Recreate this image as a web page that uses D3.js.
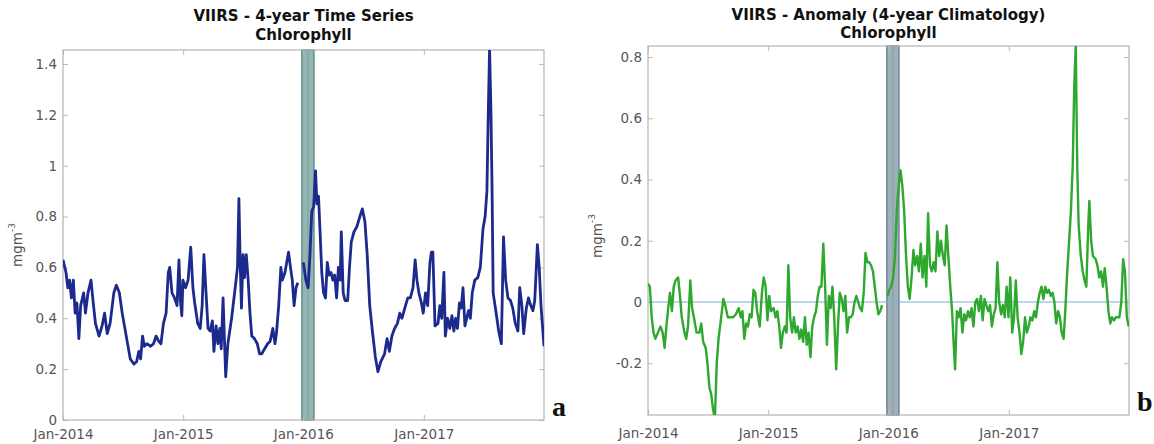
<!DOCTYPE html>
<html>
<head>
<meta charset="utf-8">
<script src="https://cdn.jsdelivr.net/npm/d3@7"></script>
<style>
  html, body { margin: 0; padding: 0; background: #fff; }
  svg { display: block; }
  .tick text { font-family: "DejaVu Sans", sans-serif; font-size: 13.5px; fill: #555; }
  .title { font-family: "DejaVu Sans", sans-serif; font-weight: bold; font-size: 15px; fill: #111; }
  .ylab { font-family: "DejaVu Sans", sans-serif; font-size: 13.5px; fill: #555; }
  .panel-letter { font-family: "Liberation Serif", "Times New Roman", serif; font-weight: bold; font-size: 28px; fill: #111; }
</style>
</head>
<body>
<svg id="chart" width="1154" height="444"></svg>
<script>
// ---- Chlorophyll time series (mg m^-3), time in decimal years; null marks a data gap
const chlTime = [
  2014.000, 2014.025, 2014.040, 2014.055, 2014.070, 2014.086, 2014.101, 2014.116, 2014.132, 2014.147,
  2014.172, 2014.187, 2014.208, 2014.233, 2014.254, 2014.270, 2014.300, 2014.325, 2014.346, 2014.368,
  2014.392, 2014.423, 2014.444, 2014.469, 2014.493, 2014.530, 2014.560, 2014.591, 2014.613, 2014.631,
  2014.646, 2014.662, 2014.677, 2014.698, 2014.729, 2014.753, 2014.775, 2014.796, 2014.815, 2014.836,
  2014.858, 2014.876, 2014.888, 2014.907, 2014.928, 2014.949, 2014.965, 2014.977, 2014.989, 2014.998,
  2015.020, 2015.041, 2015.063, 2015.081, 2015.096, 2015.121, 2015.142, 2015.158, 2015.173, 2015.188,
  2015.207, 2015.225, 2015.243, 2015.256, 2015.274, 2015.289, 2015.305, 2015.317, 2015.332, 2015.354,
  2015.372, 2015.403, 2015.433, 2015.452, 2015.464, 2015.473, 2015.485, 2015.498, 2015.510, 2015.525,
  2015.541, 2015.556, 2015.571, 2015.593, 2015.617, 2015.636, 2015.654, 2015.678, 2015.703, 2015.724,
  2015.746, 2015.764, 2015.776, 2015.795, 2015.813, 2015.825, 2015.847, 2015.862, 2015.877, 2015.893,
  2015.908, 2015.923, 2015.939, 2015.954, 2015.977,
  2016.000, 2016.021, 2016.040, 2016.055, 2016.070, 2016.086, 2016.101, 2016.113, 2016.126, 2016.138,
  2016.153, 2016.168, 2016.184, 2016.199, 2016.214, 2016.230, 2016.245, 2016.260, 2016.276, 2016.291,
  2016.306, 2016.315, 2016.331, 2016.346, 2016.368, 2016.383, 2016.398, 2016.420, 2016.444, 2016.469,
  2016.490, 2016.511, 2016.530, 2016.551, 2016.573, 2016.597, 2016.619, 2016.643, 2016.674, 2016.695,
  2016.714, 2016.735, 2016.757, 2016.781, 2016.800, 2016.818, 2016.842, 2016.867, 2016.888, 2016.910,
  2016.928, 2016.943, 2016.959, 2016.980, 2016.995,
  2017.014, 2017.032, 2017.051, 2017.063, 2017.075, 2017.093, 2017.118, 2017.133, 2017.149, 2017.167,
  2017.179, 2017.198, 2017.216, 2017.234, 2017.250, 2017.265, 2017.280, 2017.296, 2017.311, 2017.326,
  2017.342, 2017.357, 2017.372, 2017.387, 2017.403, 2017.424, 2017.449, 2017.470, 2017.492, 2017.510,
  2017.525, 2017.534, 2017.547, 2017.559, 2017.568, 2017.577, 2017.602, 2017.623, 2017.645, 2017.663,
  2017.681, 2017.700, 2017.721, 2017.740, 2017.761, 2017.783, 2017.798, 2017.816, 2017.831, 2017.853,
  2017.871, 2017.890, 2017.908, 2017.923, 2017.945, 2017.960, 2017.975, 2018.000
];
const chlValue = [
  0.63, 0.58, 0.52, 0.55, 0.48, 0.55, 0.42, 0.46, 0.32, 0.45,
  0.50, 0.42, 0.50, 0.55, 0.45, 0.38, 0.33, 0.37, 0.42, 0.34,
  0.38, 0.50, 0.53, 0.50, 0.42, 0.32, 0.24, 0.22, 0.23, 0.27,
  0.24, 0.33, 0.29, 0.30, 0.29, 0.30, 0.33, 0.31, 0.30, 0.38,
  0.42, 0.58, 0.60, 0.50, 0.48, 0.45, 0.63, 0.47, 0.41, 0.55,
  0.52, 0.55, 0.68, 0.52, 0.46, 0.38, 0.36, 0.45, 0.65, 0.52,
  0.36, 0.35, 0.39, 0.27, 0.37, 0.30, 0.36, 0.28, 0.48, 0.17,
  0.30, 0.40, 0.52, 0.60, 0.87, 0.65, 0.44, 0.65, 0.56, 0.65,
  0.55, 0.42, 0.33, 0.32, 0.30, 0.26, 0.26, 0.28, 0.30, 0.31,
  0.36, 0.30, 0.34, 0.45, 0.60, 0.55, 0.58, 0.62, 0.66, 0.60,
  0.55, 0.45, 0.52, 0.54, null,
  0.62, 0.55, 0.52, 0.65, 0.82, 0.84, 0.98, 0.85, 0.88, 0.75,
  0.58, 0.50, 0.48, 0.62, 0.57, 0.58, 0.55, 0.57, 0.48, 0.60,
  0.55, 0.74, 0.50, 0.47, 0.47, 0.60, 0.70, 0.74, 0.76, 0.80,
  0.83, 0.78, 0.65, 0.45, 0.35, 0.25, 0.19, 0.23, 0.26, 0.32,
  0.27, 0.33, 0.36, 0.38, 0.42, 0.40, 0.44, 0.48, 0.48, 0.52,
  0.63, 0.55, 0.50, 0.46, 0.42,
  0.50, 0.45, 0.62, 0.66, 0.66, 0.37, 0.38, 0.45, 0.40, 0.58,
  0.33, 0.40, 0.36, 0.41, 0.35, 0.40, 0.36, 0.46, 0.44, 0.52,
  0.37, 0.40, 0.43, 0.40, 0.50, 0.55, 0.56, 0.60, 0.75, 0.80,
  0.90, 1.15, 1.46, 1.20, 0.90, 0.50, 0.42, 0.35, 0.30, 0.72,
  0.55, 0.48, 0.47, 0.44, 0.38, 0.35, 0.52, 0.45, 0.34, 0.44,
  0.48, 0.45, 0.43, 0.47, 0.69, 0.60, 0.45, 0.29
];

// ---- Chlorophyll anomaly relative to the 4-year climatology (mg m^-3)
const anomTime = [
  2014.000, 2014.015, 2014.031, 2014.046, 2014.061, 2014.083, 2014.104, 2014.122, 2014.138, 2014.153,
  2014.168, 2014.183, 2014.199, 2014.214, 2014.229, 2014.251, 2014.266, 2014.281, 2014.303, 2014.318,
  2014.333, 2014.352, 2014.367, 2014.382, 2014.404, 2014.428, 2014.443, 2014.459, 2014.480, 2014.495,
  2014.511, 2014.526, 2014.541, 2014.557, 2014.572, 2014.587, 2014.609, 2014.627, 2014.642, 2014.664,
  2014.688, 2014.709, 2014.731, 2014.755, 2014.771, 2014.786, 2014.801, 2014.817, 2014.832, 2014.847,
  2014.862, 2014.878, 2014.893, 2014.908, 2014.930, 2014.948, 2014.963, 2014.979, 2014.994,
  2015.009, 2015.024, 2015.046, 2015.061, 2015.076, 2015.092, 2015.107, 2015.122, 2015.138, 2015.153,
  2015.168, 2015.183, 2015.199, 2015.214, 2015.229, 2015.245, 2015.260, 2015.275, 2015.291, 2015.306,
  2015.321, 2015.336, 2015.352, 2015.367, 2015.382, 2015.398, 2015.413, 2015.428, 2015.443, 2015.459,
  2015.474, 2015.489, 2015.505, 2015.520, 2015.535, 2015.550, 2015.566, 2015.581, 2015.596, 2015.612,
  2015.627, 2015.642, 2015.657, 2015.673, 2015.688, 2015.703, 2015.719, 2015.734, 2015.749, 2015.765,
  2015.780, 2015.795, 2015.810, 2015.826, 2015.841, 2015.856, 2015.872, 2015.887, 2015.902, 2015.917,
  2015.933, 2015.948, 2015.970,
  2015.994, 2016.009, 2016.024, 2016.040, 2016.055, 2016.070, 2016.086, 2016.101, 2016.116, 2016.131,
  2016.147, 2016.162, 2016.177, 2016.193, 2016.208, 2016.223, 2016.239, 2016.254, 2016.269, 2016.284,
  2016.300, 2016.315, 2016.330, 2016.346, 2016.361, 2016.376, 2016.391, 2016.407, 2016.422, 2016.437,
  2016.453, 2016.468, 2016.483, 2016.498, 2016.514, 2016.529, 2016.544, 2016.554, 2016.569, 2016.584,
  2016.599, 2016.615, 2016.630, 2016.645, 2016.661, 2016.676, 2016.691, 2016.706, 2016.722, 2016.737,
  2016.752, 2016.768, 2016.783, 2016.798, 2016.813, 2016.829, 2016.844, 2016.859, 2016.875, 2016.890,
  2016.905, 2016.920, 2016.936, 2016.951, 2016.966, 2016.982, 2016.997,
  2017.012, 2017.028, 2017.043, 2017.058, 2017.073, 2017.089, 2017.104, 2017.119, 2017.135, 2017.150,
  2017.165, 2017.180, 2017.196, 2017.211, 2017.226, 2017.242, 2017.257, 2017.272, 2017.287, 2017.303,
  2017.318, 2017.333, 2017.349, 2017.364, 2017.379, 2017.394, 2017.410, 2017.425, 2017.440, 2017.456,
  2017.471, 2017.486, 2017.502, 2017.517, 2017.532, 2017.544, 2017.557, 2017.569, 2017.581, 2017.599,
  2017.615, 2017.630, 2017.645, 2017.661, 2017.670, 2017.685, 2017.700, 2017.722, 2017.737, 2017.752,
  2017.768, 2017.783, 2017.798, 2017.813, 2017.829, 2017.844, 2017.859, 2017.875, 2017.890, 2017.905,
  2017.920, 2017.936, 2017.951, 2017.966, 2017.982, 2017.997
];
const anomValue = [
   0.06,  0.05, -0.05, -0.10, -0.12, -0.10, -0.08, -0.10, -0.15, -0.08,
  -0.02,  0.03, -0.03,  0.05,  0.07,  0.08,  0.02, -0.05, -0.10, -0.12,
  -0.08,  0.07, -0.02, -0.05, -0.10, -0.10, -0.07, -0.13, -0.15, -0.20,
  -0.28, -0.30, -0.35, -0.38, -0.20, -0.12, -0.05,  0.01, -0.01, -0.05,
  -0.05, -0.05, -0.04, -0.02, -0.05, -0.03, -0.12, -0.07, -0.08, -0.04,
  -0.05,  0.04,  0.03, -0.03, -0.08,  0.03,  0.08,  0.05, -0.06,
   0.02, -0.03, -0.02, -0.05, -0.03, -0.08, -0.15, -0.10, -0.08, -0.10,
   0.12, -0.05, -0.10, -0.05, -0.10, -0.08, -0.12, -0.09, -0.13, -0.05,
  -0.14, -0.10, -0.18, -0.08, -0.05, -0.03,  0.02,  0.05,  0.05,  0.19,
   0.05, -0.14,  0.02, -0.02,  0.05, -0.05, -0.22, -0.08,  0.03,  0.01,
  -0.03,  0.02, -0.10, -0.05, -0.05, -0.04,  0.00,  0.02,  0.00, -0.02,
  -0.03,  0.03,  0.16,  0.13,  0.13,  0.12,  0.10,  0.05,  0.00, -0.04,
  -0.03, -0.01, null,
   0.02,  0.04,  0.05,  0.08,  0.15,  0.30,  0.38,  0.43,  0.38,  0.30,
   0.15,  0.05,  0.01,  0.08,  0.17,  0.12,  0.15,  0.10,  0.19,  0.08,
   0.15,  0.05,  0.29,  0.12,  0.10,  0.13,  0.10,  0.23,  0.15,  0.20,
   0.15,  0.12,  0.25,  0.15,  0.05, -0.03, -0.15, -0.22, -0.03, -0.05,
  -0.02, -0.10, -0.04, -0.06, -0.03, -0.05, -0.02, -0.08,  0.00,  0.01,
  -0.03,  0.02, -0.06,  0.01, -0.01, -0.03, -0.01, -0.08, -0.04, -0.02,
   0.13,  0.00, -0.04, -0.01, -0.05,  0.05, -0.05,
   0.08, -0.10, -0.05,  0.07, -0.05, -0.10, -0.17, -0.13, -0.05, -0.10,
  -0.08, -0.05, -0.06, -0.03, -0.05,  0.00,  0.03,  0.05,  0.01,  0.05,
   0.03,  0.04,  0.02,  0.03,  0.00, -0.07, -0.03, -0.05, -0.10, -0.12,
  -0.02,  0.10,  0.20,  0.30,  0.45,  0.70,  0.84,  0.45,  0.25,  0.15,
   0.10,  0.07,  0.05,  0.25,  0.33,  0.20,  0.15,  0.14,  0.12,  0.08,
   0.10,  0.05,  0.11,  0.05, -0.03, -0.07, -0.05, -0.06, -0.05, -0.05,
  -0.05,  0.00,  0.14,  0.10, -0.05, -0.08
];

// ---- Axis ticks and annotations
const xTickYears = [2014, 2015, 2016, 2017];
const chlTicks = [0, 0.2, 0.4, 0.6, 0.8, 1, 1.2, 1.4];
const anomTicks = [-0.2, 0, 0.2, 0.4, 0.6, 0.8];
const highlightPeriod = [2015.988, 2016.088];   // shaded interval around Jan 2016
const panelTitles = [
  ["VIIRS - 4-year Time Series", "Chlorophyll"],
  ["VIIRS - Anomaly (4-year Climatology)", "Chlorophyll"]
];
const panelLetters = ["a", "b"];

// decimal year -> Date
function toDate(y) {
  const yr = Math.floor(y);
  const t0 = Date.UTC(yr, 0, 1), t1 = Date.UTC(yr + 1, 0, 1);
  return new Date(t0 + (y - yr) * (t1 - t0));
}
const fmtNum = d => String(Math.round(d * 10) / 10);
const fmtDate = d3.utcFormat("%b-%Y");

const svg = d3.select("#chart");

function drawPanel(cfg) {
  const { box, yDomain, yTicks, times, values, color, width, bandFill, bandStroke, zeroLine, title, letter } = cfg;
  const g = svg.append("g");
  const x = d3.scaleUtc().domain([toDate(2014), toDate(2018)]).range([box.x0, box.x1]);
  const y = d3.scaleLinear().domain(yDomain).range([box.y1, box.y0]);

  const clipId = "clip-" + letter;
  svg.append("clipPath").attr("id", clipId)
    .append("rect").attr("x", box.x0).attr("y", box.y0)
    .attr("width", box.x1 - box.x0).attr("height", box.y1 - box.y0);

  // highlighted period
  const bx0 = x(toDate(highlightPeriod[0])), bx1 = x(toDate(highlightPeriod[1]));
  g.append("rect")
    .attr("x", bx0).attr("y", box.y0)
    .attr("width", bx1 - bx0).attr("height", box.y1 - box.y0)
    .attr("fill", bandFill).attr("stroke", bandStroke).attr("stroke-width", 1.5);
  g.append("line")
    .attr("x1", (bx0 + bx1) / 2).attr("x2", (bx0 + bx1) / 2)
    .attr("y1", box.y0).attr("y2", box.y1)
    .attr("stroke", bandStroke).attr("stroke-width", 0.8).attr("opacity", 0.6);

  if (zeroLine) {
    g.append("line")
      .attr("x1", box.x0).attr("x2", box.x1)
      .attr("y1", y(0)).attr("y2", y(0))
      .attr("stroke", "#79aed4").attr("stroke-width", 1);
  }

  // axes, ticks pointing inward on all four sides
  const tick = 5;
  const ax = g.append("g").attr("class", "axes");
  ax.append("g").attr("transform", `translate(0,${box.y1})`)
    .call(d3.axisBottom(x).tickValues(xTickYears.map(toDate)).tickFormat(fmtDate)
      .tickSizeInner(-tick).tickSizeOuter(0).tickPadding(cfg.xPad));
  ax.append("g").attr("transform", `translate(0,${box.y0})`)
    .call(d3.axisTop(x).tickValues(xTickYears.map(toDate)).tickFormat("")
      .tickSizeInner(-tick).tickSizeOuter(0));
  ax.append("g").attr("transform", `translate(${box.x0},0)`)
    .call(d3.axisLeft(y).tickValues(yTicks).tickFormat(fmtNum)
      .tickSizeInner(-tick).tickSizeOuter(0).tickPadding(6));
  ax.append("g").attr("transform", `translate(${box.x1},0)`)
    .call(d3.axisRight(y).tickValues(yTicks).tickFormat("")
      .tickSizeInner(-tick).tickSizeOuter(0));
  ax.selectAll(".domain").remove();
  ax.selectAll(".tick line").attr("stroke", "#bbb");
  ax.selectAll(".tick text").attr("fill", "#555");

  g.append("rect")
    .attr("x", box.x0).attr("y", box.y0)
    .attr("width", box.x1 - box.x0).attr("height", box.y1 - box.y0)
    .attr("fill", "none").attr("stroke", "#b4b4b4").attr("stroke-width", 1.2);

  // data line
  const pts = times.map((t, i) => ({ date: toDate(t), v: values[i] }));
  const line = d3.line()
    .defined(d => d.v !== null)
    .x(d => x(d.date)).y(d => y(d.v));
  g.append("path")
    .datum(pts)
    .attr("clip-path", `url(#${clipId})`)
    .attr("d", line)
    .attr("fill", "none")
    .attr("stroke", color).attr("stroke-width", width)
    .attr("stroke-linejoin", "round");

  // titles
  const cx = (box.x0 + box.x1) / 2;
  g.append("text").attr("class", "title").attr("x", cx).attr("y", cfg.titleY[0])
    .attr("text-anchor", "middle").text(title[0]);
  g.append("text").attr("class", "title").attr("x", cx).attr("y", cfg.titleY[1])
    .attr("text-anchor", "middle").text(title[1]);

  // y label: mg m^-3
  const yl = g.append("text").attr("class", "ylab")
    .attr("transform", `translate(${cfg.yLabelX},${cfg.yLabelY}) rotate(-90)`)
    .attr("text-anchor", "middle");
  yl.append("tspan").text("mgm");
  yl.append("tspan").attr("dy", -7).attr("font-size", "9px").text("-3");

  // panel letter
  g.append("text").attr("class", "panel-letter")
    .attr("x", box.x1 + cfg.letterDx).attr("y", box.y1 - 4).text(letter);
}

drawPanel({
  box: { x0: 63, x1: 544, y0: 50, y1: 420 },
  yDomain: [0, 1.455], yTicks: chlTicks,
  times: chlTime, values: chlValue,
  color: "#1b2a8c", width: 2.8,
  bandFill: "#93b6b3", bandStroke: "#5f8d8b",
  zeroLine: false, title: panelTitles[0], letter: panelLetters[0],
  titleY: [21, 40], yLabelX: 22, yLabelY: 245, letterDx: 8, xPad: 9
});

drawPanel({
  box: { x0: 648, x1: 1129, y0: 46, y1: 415 },
  yDomain: [-0.369, 0.836], yTicks: anomTicks,
  times: anomTime, values: anomValue,
  color: "#2ea82e", width: 2.4,
  bandFill: "#9fb0ba", bandStroke: "#6e8796",
  zeroLine: true, title: panelTitles[1], letter: panelLetters[1],
  titleY: [20, 38], yLabelX: 602, yLabelY: 236, letterDx: 8, xPad: 13
});
</script>
</body>
</html>
